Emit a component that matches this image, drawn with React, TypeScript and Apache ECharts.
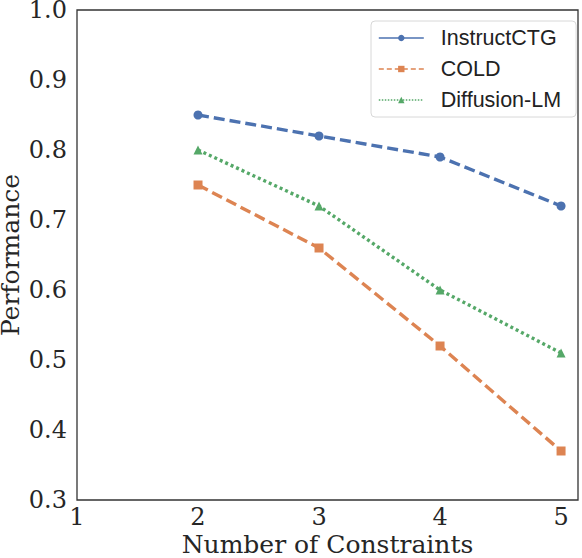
import React, { useEffect, useRef } from "react";
import * as echarts from "echarts";

const constraints = [2, 3, 4, 5];
const instructCTG = [0.85, 0.82, 0.79, 0.72];
const cold = [0.75, 0.66, 0.52, 0.37];
const diffusionLM = [0.8, 0.72, 0.6, 0.51];
const seriesNames = ["InstructCTG", "COLD", "Diffusion-LM"];

const pair = (ys: number[]) => constraints.map((x, i) => [x, ys[i]]);

export default function App() {
  const ref = useRef<HTMLDivElement>(null);
  useEffect(() => {
    if (!ref.current) return;
    const chart = echarts.init(ref.current, undefined, { renderer: "svg" });
    const serif = "DejaVu Serif";
    chart.setOption({
      animation: false,
      backgroundColor: "#ffffff",
      grid: {
        left: 77,
        top: 10,
        right: 4,
        bottom: 58,
        show: true,
        borderColor: "#333",
        borderWidth: 1.3,
        outerBoundsMode: "none",
        containLabel: false,
      },
      legend: {
        orient: "vertical",
        left: 371,
        top: 21,
        data: [
          { name: seriesNames[0], lineStyle: { width: 1.6, type: "solid" } },
          { name: seriesNames[1], lineStyle: { width: 1.6, type: [5, 3] } },
          { name: seriesNames[2], lineStyle: { width: 1.6, type: [1.5, 1.5] } },
        ],
        itemWidth: 45,
        itemHeight: 8,
        itemGap: 9,
        padding: [6, 15, 6, 7],
        borderColor: "#d8d8d8",
        borderWidth: 1,
        borderRadius: 4,
        textStyle: { fontFamily: "Liberation Sans", fontSize: 21.5, color: "#222", padding: [0, 0, 0, 12] },
      },
      xAxis: {
        type: "value",
        min: 1,
        max: 5.14,
        interval: 1,
        name: "Number of Constraints",
        nameLocation: "middle",
        nameGap: 32,
        nameMoveOverlap: false,
        nameTextStyle: { fontFamily: serif, fontSize: 25, color: "#262626" },
        axisLine: { show: false },
        axisTick: { show: false },
        splitLine: { show: false },
        axisLabel: {
          showMaxLabel: false,
          fontFamily: serif,
          fontSize: 24,
          color: "#262626",
          margin: 5,
          formatter: (v: number) => (Number.isInteger(v) ? String(v) : ""),
        },
      },
      yAxis: {
        type: "value",
        min: 0.3,
        max: 1.0,
        interval: 0.1,
        name: "Performance",
        nameLocation: "middle",
        nameGap: 54,
        nameMoveOverlap: false,
        nameTextStyle: { fontFamily: serif, fontSize: 25, color: "#262626" },
        axisLine: { show: false },
        axisTick: { show: false },
        splitLine: { show: false },
        axisLabel: {
          fontFamily: serif,
          fontSize: 24,
          color: "#262626",
          margin: 10,
          formatter: (v: number) => v.toFixed(1),
        },
      },
      series: [
        {
          name: seriesNames[0],
          type: "line",
          data: pair(instructCTG),
          symbol: "circle",
          symbolSize: 9,
          color: "#4c72b0",
          lineStyle: { width: 3.4, type: [11, 5] },
          itemStyle: { color: "#4c72b0" },
        },
        {
          name: seriesNames[1],
          type: "line",
          data: pair(cold),
          symbol: "rect",
          symbolSize: 9,
          color: "#dd8452",
          lineStyle: { width: 3.4, type: [11, 5] },
          itemStyle: { color: "#dd8452" },
        },
        {
          name: seriesNames[2],
          type: "line",
          data: pair(diffusionLM),
          symbol: "triangle",
          symbolSize: 9,
          color: "#55a868",
          lineStyle: { width: 3.4, type: [3, 3] },
          itemStyle: { color: "#55a868" },
        },
      ],
    });
    return () => chart.dispose();
  }, []);
  return <div ref={ref} style={{ position: "fixed", left: 0, top: 0, width: 582, height: 558 }} />;
}
